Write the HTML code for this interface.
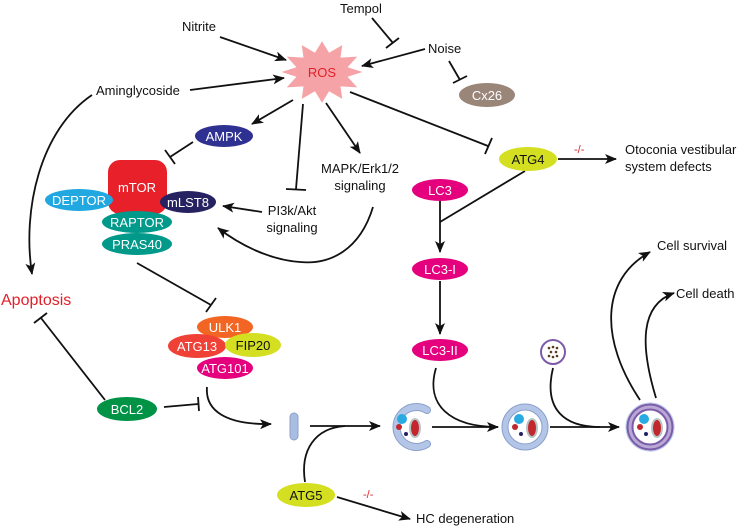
<!DOCTYPE html>
<html><head><meta charset="utf-8"><style>
html,body{margin:0;padding:0;background:#fff;}
svg{display:block;font-family:"Liberation Sans",Arial,sans-serif;}
</style></head><body>
<svg width="745" height="530" viewBox="0 0 745 530" xmlns="http://www.w3.org/2000/svg">
<defs>
<marker id="a" viewBox="0 0 12 10" refX="11" refY="5" markerWidth="12" markerHeight="10" markerUnits="userSpaceOnUse" orient="auto">
<path d="M0,0 L12,5 L0,10 L3,5 Z" fill="#111"/></marker>
</defs>
<g fill="none" stroke="#111" stroke-width="1.8">
<path d="M220,37 L286,60" marker-end="url(#a)"/>
<path d="M190,90 L284,78" marker-end="url(#a)"/>
<path d="M425,49 L362,66" marker-end="url(#a)"/>
<path d="M372,18 L393,43"/><path d="M386,48 L399,38"/>
<path d="M449,61 L460,80"/><path d="M453,83 L467,76"/>
<path d="M293,100 L252,124" marker-end="url(#a)"/>
<path d="M193,142 L170,157"/><path d="M165,150 L175,164"/>
<path d="M303,104 L296,189"/><path d="M286,189 L306,190"/>
<path d="M326,103 L360,153" marker-end="url(#a)"/>
<path d="M350,92 L488,146"/><path d="M485,154 L492,138"/>
<path d="M558,159 L616,159" marker-end="url(#a)"/>
<path d="M262,212 L223,206" marker-end="url(#a)"/>
<path d="M373,207 C360,250 330,265 300,262 C270,260 240,245 218,228" marker-end="url(#a)"/>
<path d="M440,201 L440,252" marker-end="url(#a)"/>
<path d="M525,171 L440,222"/>
<path d="M440,281 L440,334" marker-end="url(#a)"/>
<path d="M92,95 C40,130 22,210 32,274" marker-end="url(#a)"/>
<path d="M105,400 L41,318"/><path d="M34,323 L47,313"/>
<path d="M137,263 L211,305"/><path d="M206,312 L216,298"/>
<path d="M164,407 L198,404"/><path d="M198,397 L199,411"/>
<path d="M207,387 C205,410 225,425 271,424" marker-end="url(#a)"/>
<path d="M310,426 L380,426" marker-end="url(#a)"/>
<path d="M305,482 C300,450 315,428 345,426"/>
<path d="M337,497 L410,519" marker-end="url(#a)"/>
<path d="M436,368 C425,405 450,427 498,427" marker-end="url(#a)"/>
<path d="M432,427 L498,427"/>
<path d="M550,427 L619,427" marker-end="url(#a)"/>
<path d="M553,368 C543,410 565,427 600,427"/>
<path d="M640,400 C600,340 600,280 650,252" marker-end="url(#a)"/>
<path d="M656,398 C640,345 640,305 674,293" marker-end="url(#a)"/>
</g>
<polygon transform="translate(322,72) scale(0.88,0.96)" fill="#f5a3a6" points="46,0 29,5 40,16 21,15 23,28 8,20 0,32 -8,20 -23,28 -21,15 -40,16 -29,5 -46,0 -29,-5 -40,-16 -21,-15 -23,-28 -8,-20 0,-32 8,-20 23,-28 21,-15 40,-16 29,-5"/>
<text x="322" y="77" font-size="13" fill="#e0202a" text-anchor="middle">ROS</text>
<g font-size="13" fill="#111">
<text x="182" y="31">Nitrite</text>
<text x="340" y="13">Tempol</text>
<text x="428" y="53">Noise</text>
<text x="96" y="95">Aminglycoside</text>
<text x="292" y="215" text-anchor="middle">PI3k/Akt</text>
<text x="292" y="232" text-anchor="middle">signaling</text>
<text x="360" y="173" text-anchor="middle">MAPK/Erk1/2</text>
<text x="360" y="190" text-anchor="middle">signaling</text>
<text x="625" y="154">Otoconia vestibular</text>
<text x="625" y="171">system defects</text>
<text x="657" y="250">Cell survival</text>
<text x="676" y="298">Cell death</text>
<text x="416" y="523">HC degeneration</text>
</g>
<text x="1" y="305" font-size="16" fill="#e0202a">Apoptosis</text>
<text x="574" y="153" font-size="11" fill="#e0202a">-/-</text>
<text x="363" y="498" font-size="11" fill="#e0202a">-/-</text>
<g font-size="13" text-anchor="middle">
<ellipse cx="487" cy="95" rx="28" ry="12" fill="#9a8579"/><text x="487" y="100" fill="#fff">Cx26</text>
<ellipse cx="224" cy="136" rx="29" ry="11" fill="#2e3192"/><text x="224" y="141" fill="#fff">AMPK</text>
<rect x="108" y="160" width="59" height="54" rx="12" fill="#e8202a"/>
<text x="137" y="192" fill="#fff">mTOR</text>
<ellipse cx="79" cy="200" rx="34" ry="11" fill="#22a8e0"/><text x="79" y="205" fill="#fff">DEPTOR</text>
<ellipse cx="188" cy="202" rx="28" ry="11" fill="#262262"/><text x="188" y="207" fill="#fff">mLST8</text>
<ellipse cx="137" cy="222" rx="35" ry="11" fill="#00998a"/><text x="137" y="227" fill="#fff">RAPTOR</text>
<ellipse cx="137" cy="244" rx="35" ry="11" fill="#00998a"/><text x="137" y="249" fill="#fff">PRAS40</text>
<ellipse cx="528" cy="159" rx="29" ry="12" fill="#d4df22"/><text x="528" y="164" fill="#111">ATG4</text>
<ellipse cx="440" cy="190" rx="28" ry="11" fill="#e5007d"/><text x="440" y="195" fill="#fff">LC3</text>
<ellipse cx="440" cy="269" rx="28" ry="11" fill="#e5007d"/><text x="440" y="274" fill="#fff">LC3-I</text>
<ellipse cx="440" cy="350" rx="28" ry="11" fill="#e5007d"/><text x="440" y="355" fill="#fff">LC3-II</text>
<ellipse cx="225" cy="327" rx="28" ry="11" fill="#f26522"/><text x="225" y="332" fill="#fff">ULK1</text>
<ellipse cx="197" cy="346" rx="29" ry="12" fill="#ef4136"/><text x="197" y="351" fill="#fff">ATG13</text>
<ellipse cx="253" cy="345" rx="28" ry="12" fill="#d4df22"/><text x="253" y="350" fill="#111">FIP20</text>
<ellipse cx="225" cy="368" rx="28" ry="11" fill="#e5007d"/><text x="225" y="373" fill="#fff">ATG101</text>
<ellipse cx="127" cy="409" rx="30" ry="12" fill="#009245"/><text x="127" y="414" fill="#fff">BCL2</text>
<ellipse cx="306" cy="495" rx="29" ry="12" fill="#d4df22"/><text x="306" y="500" fill="#111">ATG5</text>
</g>
<rect x="290" y="413" width="8" height="27" rx="4" fill="#a9bde0" stroke="#8aa0cc"/>
<path d="M427,410 A20,20 0 1 0 427,444" fill="none" stroke="#8aa0cc" stroke-width="8" stroke-linecap="round"/>
<path d="M427,410 A20,20 0 1 0 427,444" fill="none" stroke="#b4c6e7" stroke-width="6" stroke-linecap="round"/>
<circle cx="525" cy="427" r="20" fill="none" stroke="#8aa0cc" stroke-width="7"/>
<circle cx="525" cy="427" r="20" fill="none" stroke="#b4c6e7" stroke-width="5"/>
<circle cx="650" cy="427" r="20" fill="none" stroke="#7a5ca8" stroke-width="7"/>
<circle cx="650" cy="427" r="20" fill="none" stroke="#b9a8d6" stroke-width="3"/>
<circle cx="650" cy="427" r="24" fill="none" stroke="#b4c6e7" stroke-width="1"/>
<g>
<circle cx="402" cy="419" r="5" fill="#29abe2"/><circle cx="399" cy="427" r="3" fill="#c1272d"/><circle cx="406" cy="434" r="2" fill="#262262"/>
<ellipse cx="415" cy="428" rx="6" ry="10" fill="#b7c4c4"/><ellipse cx="415" cy="428" rx="4" ry="8" fill="#c1272d"/>
<circle cx="519" cy="419" r="5" fill="#29abe2"/><circle cx="515" cy="427" r="3" fill="#c1272d"/><circle cx="521" cy="434" r="2" fill="#262262"/>
<ellipse cx="532" cy="428" rx="6" ry="10" fill="#b7c4c4"/><ellipse cx="532" cy="428" rx="4" ry="8" fill="#c1272d"/>
<circle cx="644" cy="419" r="5" fill="#29abe2"/><circle cx="640" cy="427" r="3" fill="#c1272d"/><circle cx="646" cy="434" r="2" fill="#262262"/>
<ellipse cx="657" cy="428" rx="6" ry="10" fill="#b7c4c4"/><ellipse cx="657" cy="428" rx="4" ry="8" fill="#c1272d"/>
</g>
<circle cx="553" cy="352" r="12" fill="#fff" stroke="#7a5ca8" stroke-width="2"/>
<g fill="#5a3a1a"><circle cx="549" cy="348" r="1.3"/><circle cx="553" cy="347" r="1.3"/><circle cx="557" cy="348" r="1.3"/><circle cx="551" cy="352" r="1.3"/><circle cx="556" cy="352" r="1.3"/><circle cx="549" cy="356" r="1.3"/><circle cx="553" cy="357" r="1.3"/><circle cx="557" cy="356" r="1.3"/></g>
</svg>
</body></html>
